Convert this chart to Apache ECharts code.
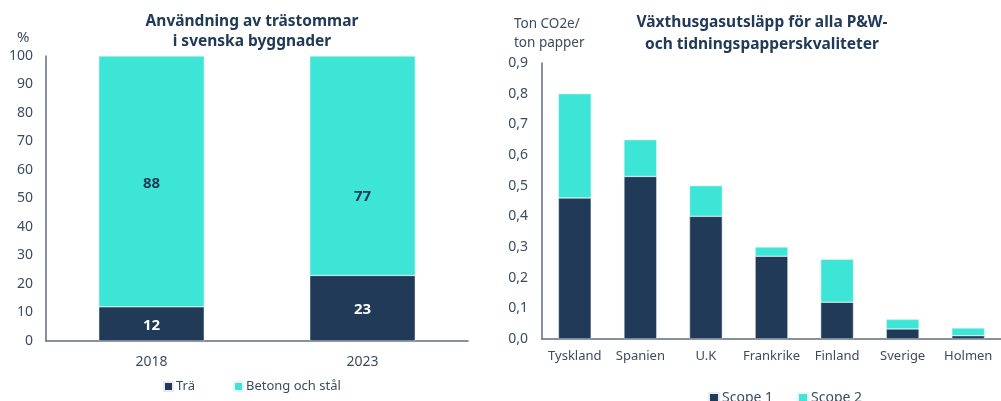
<!DOCTYPE html>
<html lang="sv">
<head>
    <meta charset="UTF-8">
    <title>index</title>
    <script src="https://cdn.jsdelivr.net/npm/echarts@6/dist/echarts.min.js"></script>
    <style>
        body { margin: 0; background: #fff; }
        #main { width: 1001px; height: 401px; }
    </style>
</head>
<body>
<div id="main"></div>
<script type="text/javascript">
    // vänster diagram: trästommar
    var years = ['2018', '2023'];
    var tra = [12, 23];
    var betong = [88, 77];

    // höger diagram: växthusgasutsläpp
    var countries = ['Tyskland', 'Spanien', 'U.K', 'Frankrike', 'Finland', 'Sverige', 'Holmen'];
    var scope1 = [0.46, 0.53, 0.40, 0.27, 0.12, 0.033, 0.011];
    var scope2 = [0.34, 0.12, 0.10, 0.03, 0.14, 0.031, 0.025];

    var navy = '#213a57';
    var turq = '#3ce5d5';
    var txt = '#3d4b5f';
    var font = 'Noto Sans';

    var myChart = echarts.init(document.getElementById('main'));

    var axisLine = { show: true, lineStyle: { color: '#5d6c80', width: 1.5 } };

    // etiketterna i Excel sitter inte exakt mitt i segmenten
    var betongOffsets = [[0, 2], [0, 31]];
    var betongData = betong.map(function (v, i) {
        return { value: v, label: { offset: betongOffsets[i] } };
    });

    var option = {
        textStyle: { fontFamily: font },
        title: [{
            text: 'Användning av trästommar\ni svenska byggnader',
            left: 247, top: 7, textAlign: 'center',
            textStyle: { fontSize: 15.5, fontWeight: 'bold', color: navy, lineHeight: 20, fontFamily: font }
        }, {
            text: 'Växthusgasutsläpp för alla P&W-\noch tidningspapperskvaliteter',
            left: 757, top: 7, textAlign: 'center',
            textStyle: { fontSize: 15.5, fontWeight: 'bold', color: navy, lineHeight: 22, fontFamily: font }
        }, {
            text: '%', left: 12, top: 25,
            textStyle: { fontSize: 15, fontWeight: 'normal', color: txt, fontFamily: font }
        }, {
            text: 'Ton CO2e/\nton papper', left: 509, top: 10,
            textStyle: { fontSize: 13.5, fontWeight: 'normal', color: txt, lineHeight: 19, fontFamily: font }
        }],
        legend: [{
            data: ['Trä', 'Betong och stål'],
            left: 158, top: 375,
            itemWidth: 9, itemHeight: 9, itemGap: 38,
            icon: 'rect',
            textStyle: { color: txt, fontSize: 13, padding: [0, 0, 0, -2] }
        }, {
            data: ['Scope 1', 'Scope 2'],
            left: 703, top: 386,
            itemWidth: 10, itemHeight: 10, itemGap: 24,
            icon: 'rect',
            textStyle: { color: txt, fontSize: 14, padding: [0, 0, 0, -2] }
        }],
        grid: [
            { left: 46, right: 533, top: 56, bottom: 60 },
            { left: 542, right: -10, top: 63, bottom: 62 }
        ],
        xAxis: [{
            type: 'category', gridIndex: 0, data: years,
            axisLine: axisLine, axisTick: { show: false },
            axisLabel: { color: txt, fontSize: 14, margin: 14 }
        }, {
            type: 'category', gridIndex: 1, data: countries,
            axisLine: axisLine, axisTick: { show: false },
            axisLabel: { color: txt, fontSize: 13, margin: 11, interval: 0 }
        }],
        yAxis: [{
            type: 'value', gridIndex: 0, min: 0, max: 100, interval: 10,
            axisLine: axisLine, axisTick: { show: false }, splitLine: { show: false },
            axisLabel: { color: txt, fontSize: 14, margin: 13 }
        }, {
            type: 'value', gridIndex: 1, min: 0, max: 0.9, interval: 0.1,
            axisLine: axisLine, axisTick: { show: false }, splitLine: { show: false },
            axisLabel: {
                color: txt, fontSize: 14, margin: 14,
                formatter: function (v) { return v.toFixed(1).replace('.', ','); }
            }
        }],
        series: [{
            name: 'Trä', type: 'bar', stack: 'a', xAxisIndex: 0, yAxisIndex: 0,
            data: tra, barWidth: '50%',
            itemStyle: { color: navy, borderColor: '#e4ecf2', borderWidth: 0.5 },
            label: { show: true, position: 'inside', color: '#fff', fontSize: 15, fontWeight: 'bold', offset: [0, 2] }
        }, {
            name: 'Betong och stål', type: 'bar', stack: 'a', xAxisIndex: 0, yAxisIndex: 0,
            data: betongData, barWidth: '50%',
            itemStyle: { color: turq, borderColor: '#e4f8f6', borderWidth: 0.5 },
            label: { show: true, position: 'inside', color: navy, fontSize: 15, fontWeight: 'bold' }
        }, {
            name: 'Scope 1', type: 'bar', stack: 'b', xAxisIndex: 1, yAxisIndex: 1,
            data: scope1, barWidth: '50%',
            itemStyle: { color: navy, borderColor: '#e4ecf2', borderWidth: 0.5 }
        }, {
            name: 'Scope 2', type: 'bar', stack: 'b', xAxisIndex: 1, yAxisIndex: 1,
            data: scope2, barWidth: '50%',
            itemStyle: { color: turq, borderColor: '#e4f8f6', borderWidth: 0.5 }
        }]
    };

    myChart.setOption(option);
</script>
</body>
</html>
